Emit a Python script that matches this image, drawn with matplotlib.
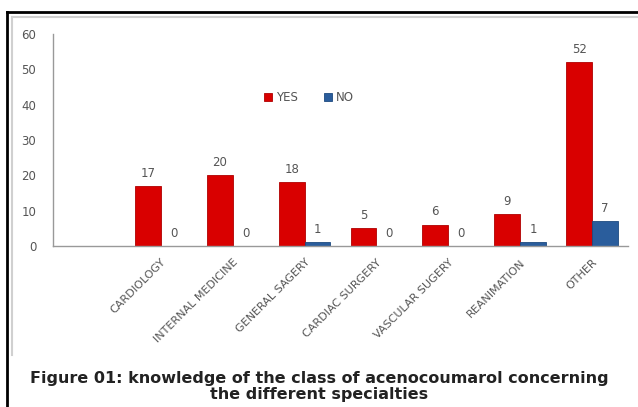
import numpy as np
import matplotlib
matplotlib.use("Agg")
import matplotlib.pyplot as plt
from matplotlib.lines import Line2D

categories = ["", "CARDIOLOGY", "INTERNAL MEDICINE", "GENERAL SAGERY", "CARDIAC SURGERY",
              "VASCULAR SUGERY", "REANIMATION", "OTHER"]
yes_values = [None, 17, 20, 18, 5, 6, 9, 52]
no_values = [None, 0, 0, 1, 0, 0, 1, 7]

red = "#d90000"
blue = "#2a5d9c"

fig = plt.figure(figsize=(6.38, 4.07), dpi=100)
ax = fig.add_axes([53 / 638, 1 - 246 / 407, 575 / 638, 212 / 407])

x = np.arange(len(categories))
w = 0.36
yes_plot = [v if v is not None else 0 for v in yes_values]
no_plot = [v if v is not None else 0 for v in no_values]
ax.bar(x - w / 2, yes_plot, w, color=red, edgecolor="#b00000", linewidth=0.6, label="YES")
ax.bar(x + w / 2, no_plot, w, color=blue, edgecolor="#1d4a80", linewidth=0.6, label="NO")

# value labels
for i in range(len(categories)):
    if yes_values[i] is None:
        continue
    ax.text(x[i] - w / 2, yes_values[i] + 1.8, str(yes_values[i]), ha="center", va="bottom",
            fontsize=8.5, color="#555555")
    ax.text(x[i] + w / 2, no_values[i] + 1.8, str(no_values[i]), ha="center", va="bottom",
            fontsize=8.5, color="#555555")

ax.set_xlim(-0.5, len(categories) - 0.5)
ax.set_ylim(0, 60)
ax.set_yticks(range(0, 61, 10))
ax.tick_params(axis="y", length=0, labelsize=8.5, labelcolor="#555555", pad=12)
ax.set_xticks(x)
ax.set_xticklabels(categories, rotation=45, ha="right", rotation_mode="anchor",
                   fontsize=8, color="#555555")
ax.tick_params(axis="x", length=0, pad=8)
for s in ["top", "right"]:
    ax.spines[s].set_visible(False)
for s in ["left", "bottom"]:
    ax.spines[s].set_color("#999999")
    ax.spines[s].set_linewidth(1.0)

ax.legend(loc="center", bbox_to_anchor=(0.445, 0.70), ncol=2, frameon=False, fontsize=8.5,
          handlelength=0.7, handleheight=0.7, handletextpad=0.3, columnspacing=2.2,
          labelcolor="#555555")

fig.text(0.5, 1 - 378 / 407, "Figure 01: knowledge of the class of acenocoumarol concerning",
         ha="center", va="center", fontsize=11.5, fontweight="bold", color="#222222")
fig.text(0.5, 1 - 395 / 407, "the different specialties",
         ha="center", va="center", fontsize=11.5, fontweight="bold", color="#222222")

# outer frame
fig.add_artist(Line2D([7 / 638, 7 / 638], [0, 1 - 12 / 407], color="black", linewidth=2))
fig.add_artist(Line2D([7 / 638, 1], [1 - 12 / 407, 1 - 12 / 407], color="black", linewidth=2))
fig.add_artist(Line2D([12 / 638, 12 / 638], [1 - 355 / 407, 1 - 17 / 407], color="#d0d0d0", linewidth=1.5))
fig.add_artist(Line2D([12 / 638, 1], [1 - 17 / 407, 1 - 17 / 407], color="#d0d0d0", linewidth=1.5))

fig.savefig("out.png", dpi=100)
